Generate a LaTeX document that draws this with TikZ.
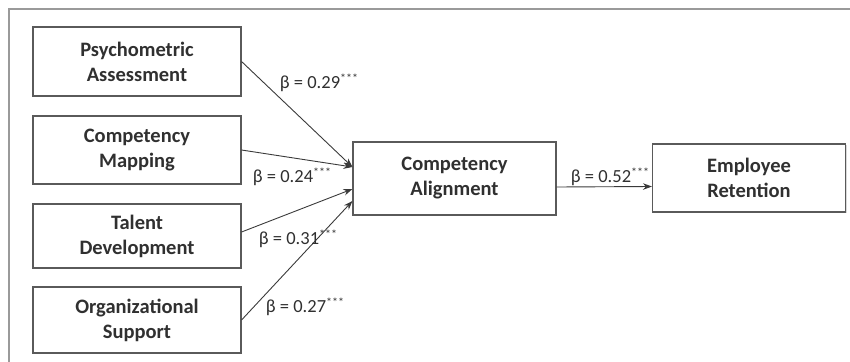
\documentclass[tikz,border=0pt]{standalone}
\usepackage{fontspec}
\setmainfont{Carlito}
\usetikzlibrary{arrows.meta,shadows}
\definecolor{txt}{HTML}{303030}
\definecolor{boxline}{HTML}{5A5A5A}
\definecolor{framecol}{HTML}{9A9A9A}
\definecolor{arrcol}{HTML}{3A3A3A}
\tikzset{
  varbox/.style={draw=boxline, line width=1.1pt, fill=white, rectangle, align=center,
    text=txt, font=\bfseries\fontsize{20.5}{25}\selectfont, inner sep=0pt,
    drop shadow={shadow xshift=1.2pt, shadow yshift=-1.2pt, fill=black!25, opacity=0.6}},
  path/.style={draw=arrcol, line width=0.9pt, -{Stealth[length=9pt,width=6.5pt]}},
  coef/.style={text=txt, font=\fontsize{18.5}{22}\selectfont, inner sep=0pt}
}
\newcommand{\coefstar}{\raisebox{0.35em}{\fontsize{12}{12}\selectfont ***}}
\begin{document}
\begin{tikzpicture}[x=1pt,y=-1pt]
\useasboundingbox (0,0) rectangle (850,361);
\draw[framecol, line width=1.3pt] (9,370) -- (9,9) -- (860,9);
\node[varbox, minimum width=208pt, minimum height=69pt] (PA) at (137,61.5) {Psychometric\\Assessment};
\node[varbox, minimum width=208pt, minimum height=68pt] (CM) at (137,150) {Competency\\Mapping};
\node[varbox, minimum width=208pt, minimum height=64pt] (TD) at (137,236) {Talent\\Development};
\node[varbox, minimum width=208pt, minimum height=66pt] (OS) at (137,320) {Organizational\\Support};
\node[varbox, minimum width=203pt, minimum height=73pt] (CA) at (454.5,178.5) {Competency\\Alignment};
\node[varbox, minimum width=193pt, minimum height=68pt] (ER) at (749,178) {Employee\\Retention};
\draw[path] (PA.east) -- ([yshift=11.5pt]CA.west);
\draw[path] (CM.east) -- ([yshift=11.5pt]CA.west);
\draw[path] ([yshift=4pt]TD.east) -- ([yshift=-10.5pt]CA.west);
\draw[path] (OS.east) -- ([yshift=-22.5pt]CA.west);
\draw[path] ([yshift=-8.5pt]CA.east) -- ([yshift=-8.5pt]ER.west);
\node[coef] (c1) at (319,83) {β = 0.29\coefstar};
\node[coef] (c2) at (292,177) {β = 0.24\coefstar};
\node[coef] (c3) at (298,239) {β = 0.31\coefstar};
\node[coef] (c4) at (305,307) {β = 0.27\coefstar};
\node[coef] (c5) at (610,177) {β = 0.52\coefstar};
\end{tikzpicture}
\end{document}
